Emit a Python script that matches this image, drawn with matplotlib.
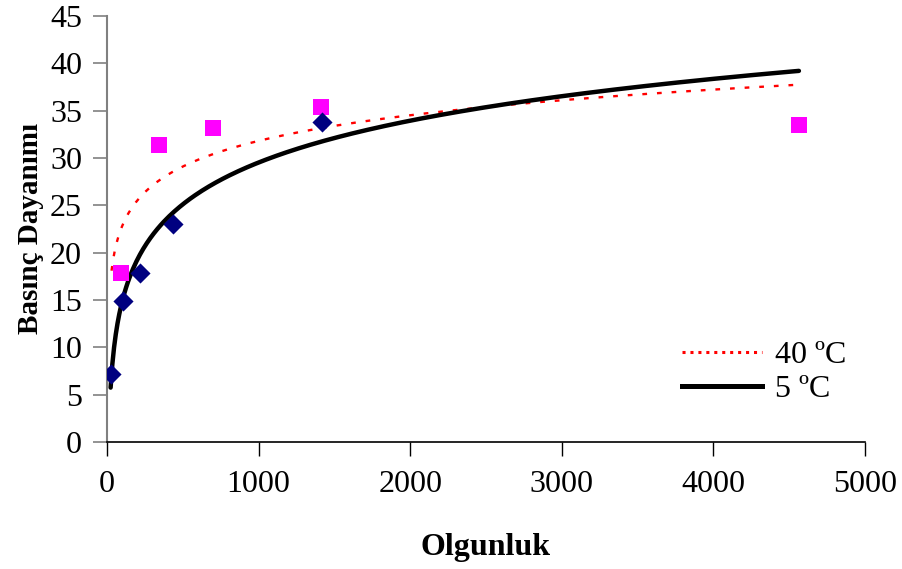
import numpy as np
import matplotlib
matplotlib.use("Agg")
import matplotlib.pyplot as plt
from matplotlib.lines import Line2D

# Data
x_5c = [24, 104, 218, 437, 1420]
y_5c = [7.15, 14.9, 17.8, 23.0, 33.8]
x_40c = [90, 343, 697, 1410, 4564]
y_40c = [17.9, 31.4, 33.2, 35.35, 33.45]

xticks = [0, 1000, 2000, 3000, 4000, 5000]
yticks = [0, 5, 10, 15, 20, 25, 30, 35, 40, 45]

plt.rcParams['font.family'] = ['Liberation Serif', 'DejaVu Serif']

fig = plt.figure(figsize=(9.02, 5.69), dpi=100)
ax = fig.add_axes([0.1186, 0.2232, 0.9590 - 0.1186, 0.9719 - 0.2232])

# Logarithmic trendlines fitted to the data (as Excel's log trendline)
a5, b5 = np.polyfit(np.log(x_5c), y_5c, 1)
a40, b40 = np.polyfit(np.log(x_40c), y_40c, 1)
xx5 = np.linspace(min(x_5c), max(x_40c), 400)
xx40 = np.linspace(30, max(x_40c), 400)

ax.plot(xx40, a40 * np.log(xx40) + b40, color='#FF0000', lw=1.7,
        linestyle=(0, (2.0, 4.2)), zorder=2)
ax.plot(xx5, a5 * np.log(xx5) + b5, color='black', lw=3.2,
        solid_capstyle='round', zorder=2)

ax.scatter(x_40c, y_40c, marker='s', s=130, color='#FF00FF', zorder=3, linewidths=0)
ax.scatter(x_5c, y_5c, marker='D', s=105, color='#000080', zorder=4, linewidths=0)

ax.set_xlim(0, 5000)
ax.set_ylim(0, 45)
ax.set_xticks(xticks)
ax.set_yticks(yticks)
ax.tick_params(axis='both', labelsize=23, direction='out')
ax.tick_params(axis='y', length=10, color='#808080', width=1.2, pad=8)
ax.tick_params(axis='x', length=10, color='black', width=1.0, pad=10)

for s in ['top', 'right']:
    ax.spines[s].set_visible(False)
ax.spines['left'].set_color('#808080')
ax.spines['left'].set_linewidth(1.5)
ax.spines['bottom'].set_color('black')
ax.spines['bottom'].set_linewidth(1.2)

ax.set_xlabel('Olgunluk', fontsize=23, fontweight='bold', labelpad=25)
ax.set_ylabel('Basınç Dayanımı', fontsize=21, fontweight='bold', labelpad=4)

handles = [
    Line2D([], [], color='#FF0000', lw=2.2, linestyle=(0, (1, 1.6))),
    Line2D([], [], color='black', lw=3.6),
]
leg = ax.legend(handles, ['40 ºC', '5 ºC'], loc='lower right',
                bbox_to_anchor=(1.013, 0.022), frameon=False,
                fontsize=23, handlelength=2.5, handletextpad=0.4, labelspacing=0.15)

fig.savefig('out.png', dpi=100)
